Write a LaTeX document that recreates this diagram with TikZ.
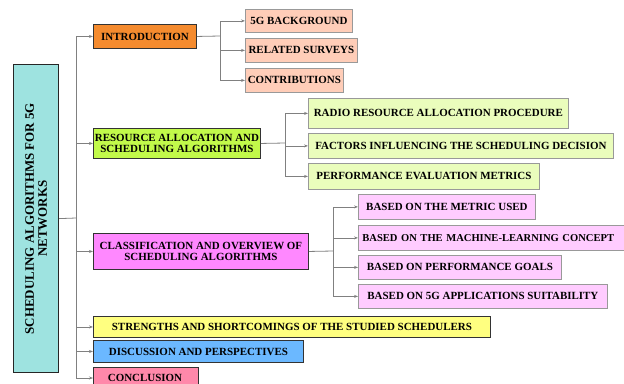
\documentclass[tikz,border=0pt]{standalone}
\usepackage{fontspec}
\setmainfont{Liberation Serif}
\usetikzlibrary{arrows.meta}
\definecolor{rootc}{HTML}{9EE3E0}
\definecolor{introc}{HTML}{F58B2E}
\definecolor{introk}{HTML}{FFCDB8}
\definecolor{rac}{HTML}{C2FA4A}
\definecolor{rak}{HTML}{EAFDBC}
\definecolor{clsc}{HTML}{FF88FF}
\definecolor{clsk}{HTML}{FFCCFF}
\definecolor{strc}{HTML}{FFFF80}
\definecolor{disc}{HTML}{6BB8FF}
\definecolor{conc}{HTML}{FF88AA}
\definecolor{lnc}{HTML}{808080}
\tikzset{
  every node/.style={font=\bfseries\fontsize{11}{11.5}\selectfont, inner sep=0pt},
  lvl/.style={draw=black!80, line width=0.9pt, anchor=north west, align=center},
  kid/.style={draw=black!40, line width=0.8pt, anchor=north west, align=center},
  conn/.style={draw=lnc, line width=0.8pt},
  arr/.style={conn, -{Stealth[length=4pt,width=3pt]}},
}
\newcommand{\bx}[7]{% name style fill x1 y1 x2 y2 text via \bxtext
  \node[#2, fill=#3, minimum width=#6bp-#4bp, minimum height=#7bp-#5bp] (#1) at (#4,-#5) {\bxtext};}
\begin{document}
\begin{tikzpicture}[x=1bp,y=1bp]
\clip (0,0) rectangle (624,-383);
\fill[white] (0,0) rectangle (624,-383);
% root
\node[draw=black!85, line width=1.2pt, fill=rootc, anchor=north west,
      minimum width=45bp, minimum height=308bp] (root) at (13,-64) {};
\node[rotate=90, align=center, font=\bfseries\fontsize{13}{13}\selectfont] (roottxt) at (root.center) {SCHEDULING ALGORITHMS FOR 5G\\NETWORKS};
% level 1
\def\bxtext{INTRODUCTION}\bx{intro}{lvl}{introc}{93}{24}{196}{48}
\def\bxtext{RESOURCE ALLOCATION AND\\SCHEDULING ALGORITHMS}\bx{ra}{lvl}{rac}{93}{128}{260}{158}
\def\bxtext{CLASSIFICATION AND OVERVIEW OF\\SCHEDULING ALGORITHMS}\bx{cls}{lvl}{clsc}{93}{233}{308}{269}
\def\bxtext{STRENGTHS AND SHORTCOMINGS OF THE STUDIED SCHEDULERS}\bx{str}{lvl}{strc}{93}{316}{490}{337}
\def\bxtext{DISCUSSION AND PERSPECTIVES}\bx{dis}{lvl}{disc}{93}{340}{303}{362}
\node[lvl, fill=conc, minimum width=105bp, minimum height=30bp, anchor=north west] (con) at (93,-367) {};
\node[anchor=center] (contxt) at (145,-378) {CONCLUSION};
% intro children
\def\bxtext{5G BACKGROUND}\bx{bg}{kid}{introk}{245}{9}{352}{32}
\def\bxtext{RELATED SURVEYS}\bx{rs}{kid}{introk}{245}{38}{357}{62}
\def\bxtext{CONTRIBUTIONS}\bx{ct}{kid}{introk}{245}{68}{343}{92}
% ra children
\def\bxtext{RADIO RESOURCE ALLOCATION PROCEDURE}\bx{rr}{kid}{rak}{308}{98}{568}{128}
\def\bxtext{FACTORS INFLUENCING THE SCHEDULING DECISION}\bx{fi}{kid}{rak}{308}{133}{613}{158}
\def\bxtext{PERFORMANCE EVALUATION METRICS}\bx{pe}{kid}{rak}{308}{163}{539}{189}
% cls children
\def\bxtext{BASED ON THE METRIC USED}\bx{m1}{kid}{clsk}{358}{194}{535}{219}
\node[kid, fill=clsk, minimum width=290bp, minimum height=25bp, text width=282bp, inner xsep=4bp, align=left,
      font=\bfseries\fontsize{10.6}{11}\selectfont] (m2) at (358,-225) {BASED ON THE MACHINE-LEARNING CONCEPT};
\def\bxtext{BASED ON PERFORMANCE GOALS}\bx{m3}{kid}{clsk}{358}{255}{561}{279}
\def\bxtext{BASED ON 5G APPLICATIONS SUITABILITY}\bx{m4}{kid}{clsk}{358}{284}{607}{308}
% connectors
\coordinate (t) at (76,-218);
\draw[conn] (root.east) -- (t);
\foreach \n in {intro,ra,cls,str,dis}{\draw[arr] (t) |- (\n.west);}
\coordinate (tc) at (76,-378);
\draw[arr] (t) -- (tc) -- (con.west |- tc);
\coordinate (ti) at (220,-36);
\draw[conn] (intro.east) -- (ti);
\foreach \n in {bg,rs,ct}{\draw[arr] (ti) |- (\n.west);}
\coordinate (tr) at (285,-143);
\draw[conn] (ra.east) -- (tr);
\foreach \n in {rr,fi,pe}{\draw[arr] (tr) |- (\n.west);}
\coordinate (tk) at (333,-251);
\draw[conn] (cls.east) -- (tk);
\foreach \n in {m1,m2,m3,m4}{\draw[arr] (tk) |- (\n.west);}
\end{tikzpicture}
\end{document}
